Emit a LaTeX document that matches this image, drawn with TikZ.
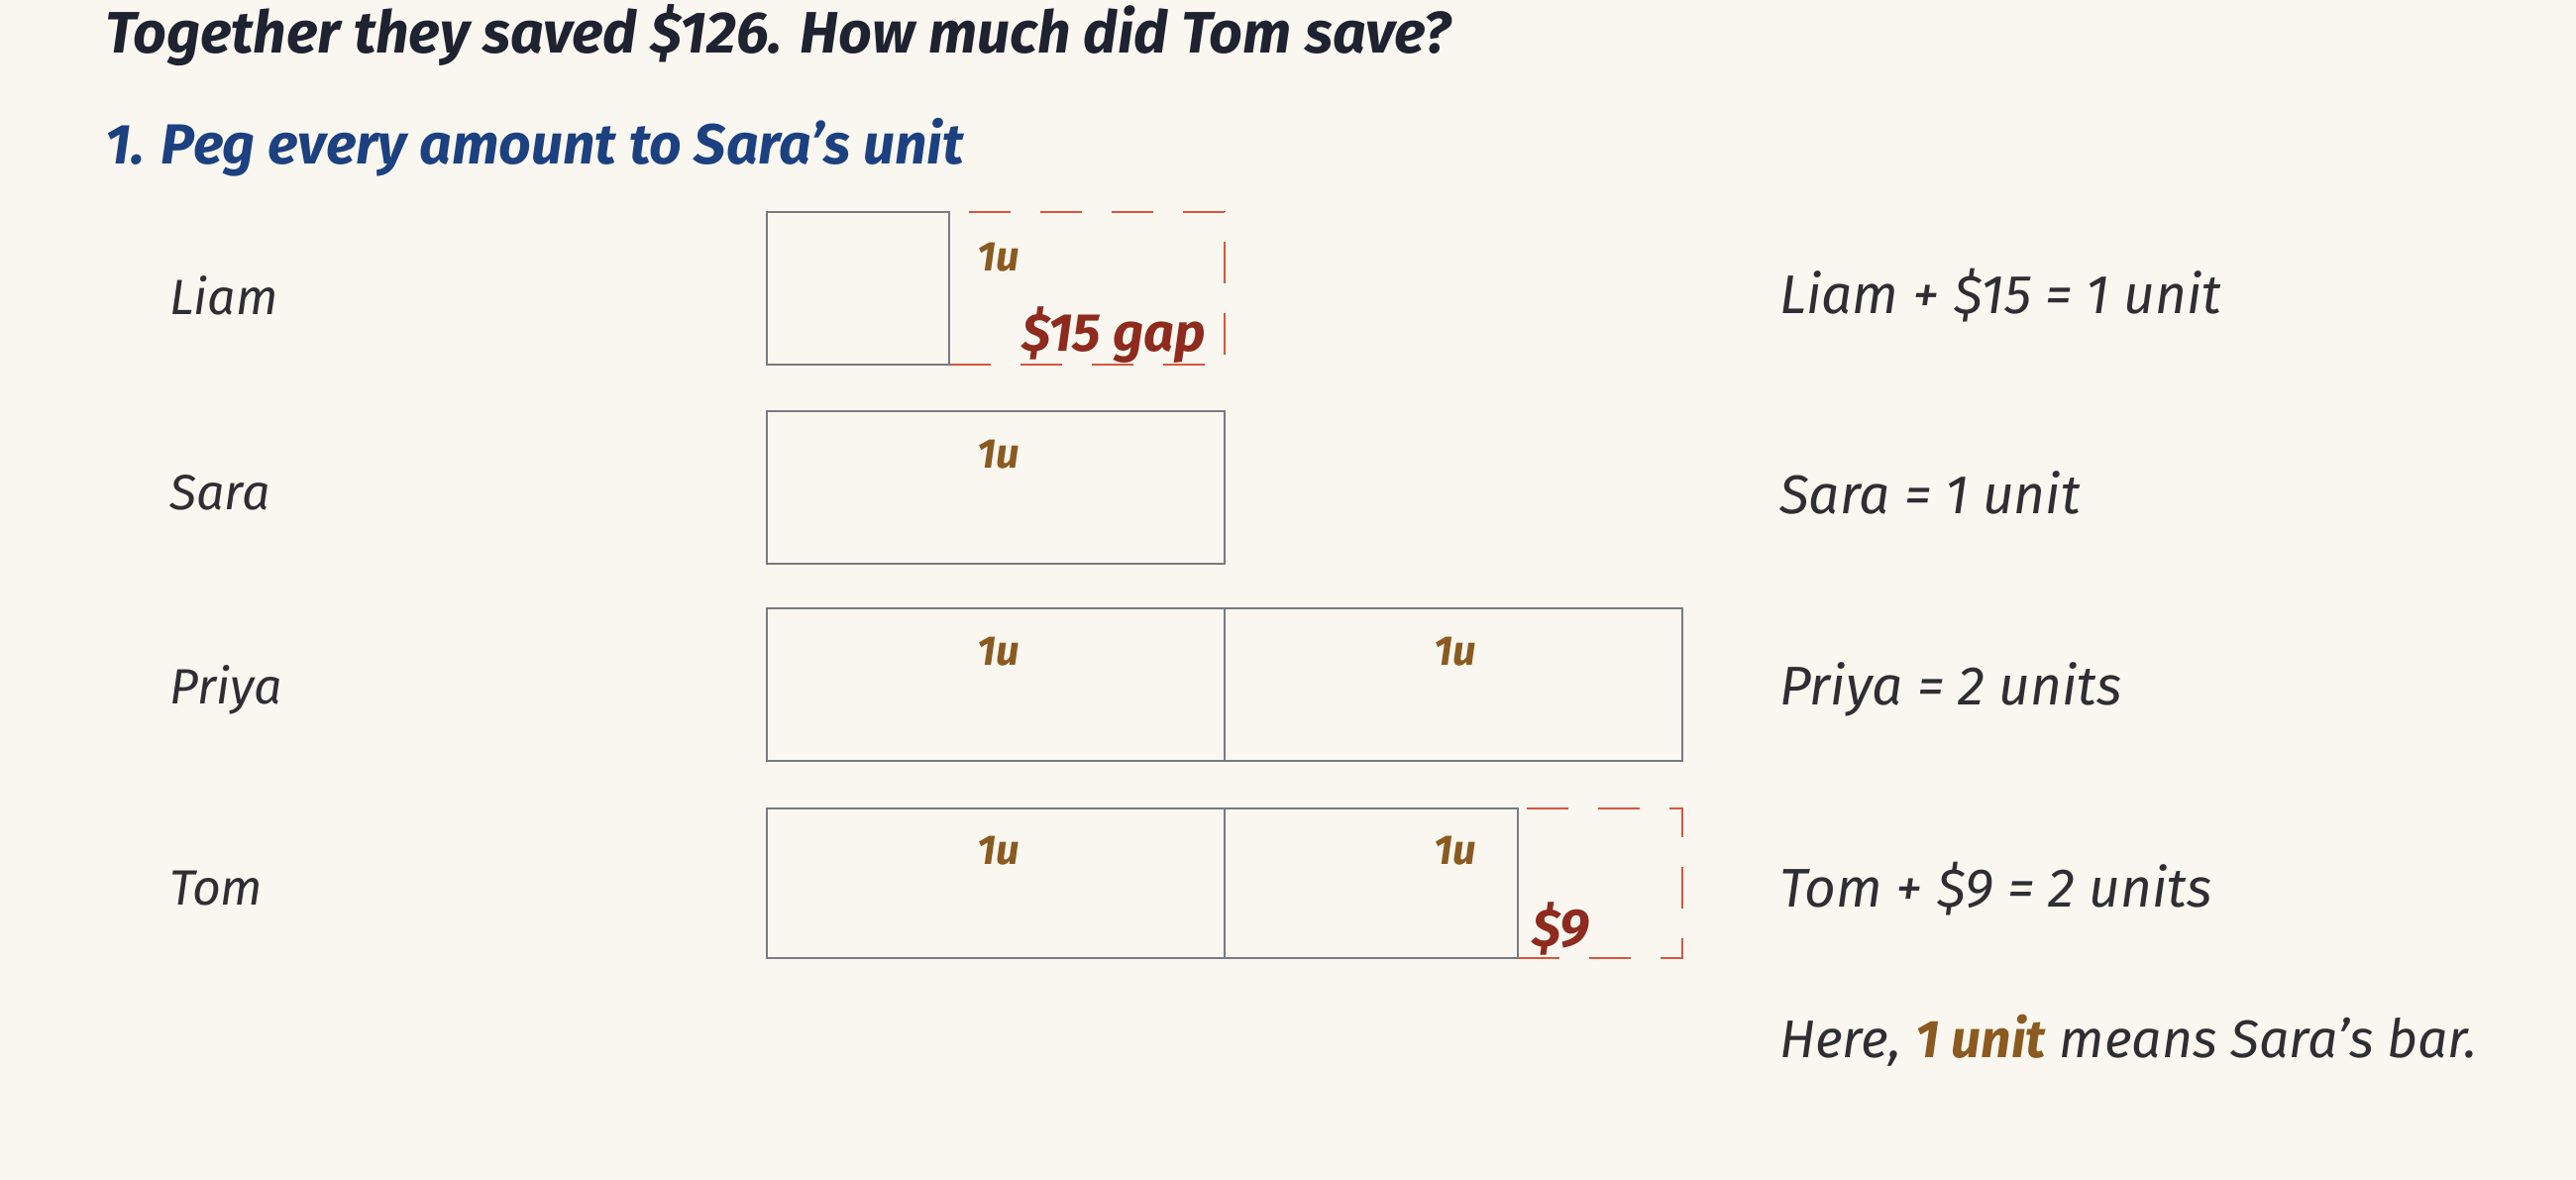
\documentclass[tikz,border=0pt]{standalone}
\usepackage{fontspec}
\setmainfont{Fira Sans}
\definecolor{bg}{HTML}{F9F7EF}
\definecolor{ink}{HTML}{2E2E33}
\definecolor{titleink}{HTML}{1F2230}
\definecolor{stepblue}{HTML}{1D4180}
\definecolor{unitbrown}{HTML}{8A5A20}
\definecolor{gapred}{HTML}{8E2A1E}
\definecolor{dashred}{HTML}{D9553F}
\definecolor{bargray}{HTML}{777A85}
\begin{document}
\begin{tikzpicture}[x=1pt,y=-1pt,
  txt/.style={anchor=west,inner sep=0pt,text=ink,font=\itshape\fontsize{55}{60}\selectfont},
  namelab/.style={anchor=west,inner sep=0pt,text=ink,font=\itshape\fontsize{50}{55}\selectfont},
  bar/.style={draw=bargray,line width=2.8pt,inner sep=0pt,outer sep=0pt,anchor=north west,minimum height=154pt},
  gapbox/.style={draw=dashred,line width=2.6pt,dash pattern=on 42pt off 30pt,inner sep=0pt,outer sep=0pt,anchor=north west,minimum height=154pt},
  ulab/.style={inner sep=0pt,text=unitbrown,font=\itshape\bfseries\fontsize{42}{46}\selectfont},
  glab/.style={inner sep=0pt,text=gapred,font=\itshape\bfseries\fontsize{54}{58}\selectfont}]
\fill[bg] (0,0) rectangle (2600,1191);
\useasboundingbox (0,0) rectangle (2600,1191);
% headings
\node[anchor=west,inner sep=0pt,text=titleink,font=\itshape\bfseries\fontsize{59}{64}\selectfont] (title) at (106,36) {Together they saved \$126. How much did Tom save?};
\node[anchor=west,inner sep=0pt,text=stepblue,font=\itshape\bfseries\fontsize{57}{62}\selectfont] (step1) at (106,149) {1. Peg every amount to Sara's unit};
% names
\node[namelab] (nliam) at (171,298) {Liam};
\node[namelab] (nsara) at (171,497) {Sara};
\node[namelab] (npriya) at (171,696) {Priya};
\node[namelab] (ntom) at (171,897) {Tom};
% Liam
\node[gapbox,minimum width=278pt] (liamgap) at (958,214) {};
\node[bar,minimum width=184pt] (liambar) at (774,214) {};
% Sara
\node[bar,minimum width=462pt] (sarabar) at (774,415) {};
% Priya
\node[bar,minimum width=462pt] (priyaA) at (774,614) {};
\node[bar,minimum width=462pt] (priyaB) at (1236,614) {};
% Tom
\node[gapbox,minimum width=166pt,minimum height=151pt] (tomgap) at (1532,816) {};
\node[bar,minimum width=462pt,minimum height=151pt] (tomA) at (774,816) {};
\node[bar,minimum width=296pt,minimum height=151pt] (tomB) at (1236,816) {};
% unit labels
\node[ulab] (u1) at (1008,260) {1u};
\node[ulab] (u2) at (1008,459) {1u};
\node[ulab] (u3) at (1008,658) {1u};
\node[ulab] (u4) at (1469,658) {1u};
\node[ulab] (u5) at (1008,859) {1u};
\node[ulab] (u6) at (1469,859) {1u};
\node[glab] (g15) at (1124,338) {\$15 gap};
\node[glab] (g9) at (1575,937) {\$9};
% right column
\node[txt] (eliam) at (1796,298) {Liam + \$15 = 1 unit};
\node[txt] (esara) at (1796,497) {Sara = 1 unit};
\node[txt] (epriya) at (1796,696) {Priya = 2 units};
\node[txt] (etom) at (1796,897) {Tom + \$9 = 2 units};
\node[txt,font=\itshape\fontsize{53.5}{58}\selectfont] (note) at (1796,1050) {Here, {\bfseries\color{unitbrown}1 unit} means Sara's bar.};
\end{tikzpicture}
\end{document}
